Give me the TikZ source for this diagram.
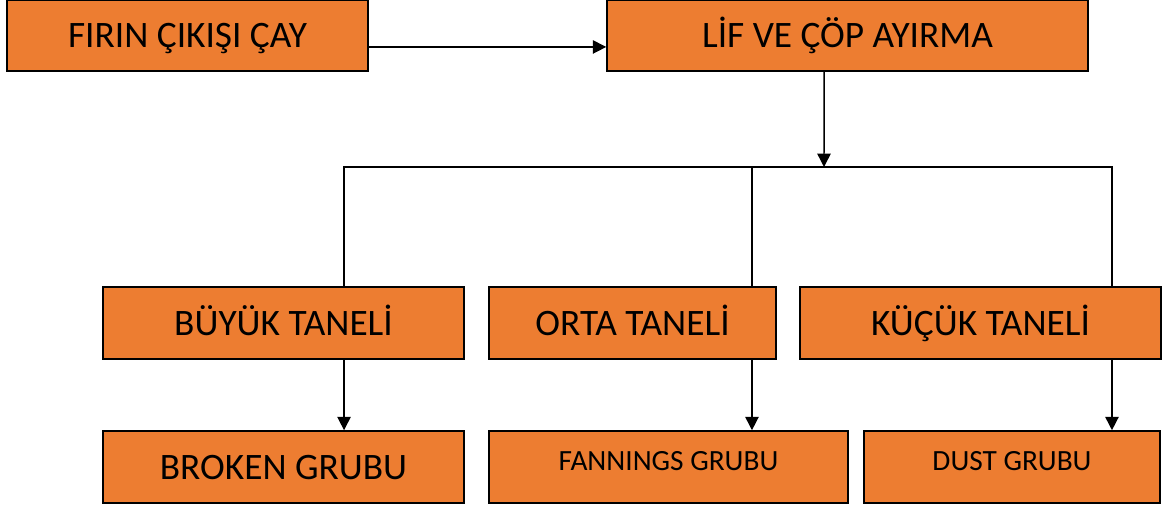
\documentclass[tikz,border=0pt]{standalone}
\usepackage{fontspec}
\setmainfont{Carlito}
\usetikzlibrary{arrows.meta}
\definecolor{kutu}{HTML}{ED7D31}

\begin{document}
\begin{tikzpicture}[x=0.75pt,y=-0.75pt,
    box/.style={draw=black,line width=1.2pt,fill=kutu,inner sep=0pt,
      text height=18pt,text depth=0pt,font=\fontsize{28}{33}\selectfont},
    smallbox/.style={box,text height=14.2pt,text depth=9pt,font=\fontsize{22}{26}\selectfont},
    arr/.style={line width=1.1pt,-{Triangle[length=10pt,width=10pt]}},
    bar/.style={line width=1.1pt}]
      \useasboundingbox (0,0) rectangle (1163,506);

      % Top row.
      \node[box,minimum width=270.75pt,minimum height=53.25pt] (firin) at (187.5,35.5) {FIRIN ÇIKIŞI ÇAY};
      \node[box,minimum width=360.75pt,minimum height=53.25pt] (lif) at (847.5,35.5) {LİF VE ÇÖP AYIRMA};

      % Middle row.
      \node[box,minimum width=270.75pt,minimum height=54pt] (buyuk) at (283.5,323) {BÜYÜK TANELİ};
      \node[box,minimum width=215.25pt,minimum height=54pt] (orta) at (632.5,323) {ORTA TANELİ};
      \node[box,minimum width=270.75pt,minimum height=54pt] (kucuk) at (980.5,323) {KÜÇÜK TANELİ};

      % Bottom row.
      \node[box,minimum width=270.75pt,minimum height=54pt] (broken) at (283.5,467) {BROKEN GRUBU};
      \node[smallbox,minimum width=269.25pt,minimum height=54pt] (fannings) at (668.5,467) {FANNINGS GRUBU};
      \node[smallbox,minimum width=222pt,minimum height=54pt] (dust) at (1012,467) {DUST GRUBU};

      \coordinate (split) at (824,167);

      \draw[arr] ([yshift=-8.6pt]firin.east) -- ([yshift=-8.6pt]lif.west);
      \draw[arr] ([xshift=-17.6pt]lif.south) -- (split);

      % Distribution bar.
      \draw[bar] ([xshift=45.4pt]buyuk.north) |- (split) -| ([xshift=98.6pt]kucuk.north);
      \draw[bar] ([xshift=89.6pt]orta.north) -- ([xshift=89.6pt]orta.north |- split);

      \draw[arr] ([xshift=45.4pt]buyuk.south) -- ([xshift=45.4pt]buyuk.south |- broken.north);
      \draw[arr] ([xshift=89.6pt]orta.south) -- ([xshift=89.6pt]orta.south |- fannings.north);
      \draw[arr] ([xshift=98.6pt]kucuk.south) -- ([xshift=98.6pt]kucuk.south |- dust.north);
\end{tikzpicture}
\end{document}
